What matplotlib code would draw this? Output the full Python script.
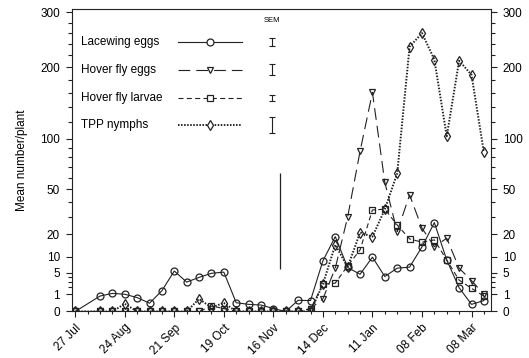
import matplotlib.pyplot as plt
import matplotlib.dates as mdates
import numpy as np
import pandas as pd

plt.rcParams['font.family'] = ['Liberation Sans', 'DejaVu Sans']
plt.rcParams['lines.scale_dashes'] = False

# sampling dates: 27 Jul, then weekly from 10 Aug to 15 Mar
dates = pd.to_datetime(['2008-07-27'] + [d.strftime('%Y-%m-%d') for d in pd.date_range('2008-08-10', '2009-03-15', freq='7D')])

lacewing_eggs = [0, 0.8, 1.1, 1.0, 0.65, 0.23, 1.45, 5.5, 2.9, 3.9, 4.9, 5.2, 0.26, 0.17, 0.14, 0.03, 0,
                 0.42, 0.4, 8.6, 18.8, 6.5, 4.65, 9.9, 4.1, 6.3, 6.6, 14, 26.5, 8.9, 1.9, 0.17, 0.4]
hover_fly_eggs = [0, 0, 0, 0, 0, 0, 0, 0, 0, 0, 0, 0, 0, 0, 0, 0, 0,
                  0, 0.03, 0.53, 6.3, 30, 86, 161, 56, 21.4, 45.6, 23.3, 14.1, 18, 6.3, 3.2, 1.0]
hover_fly_larvae = [0, 0, 0, 0, 0, 0, 0, 0, 0, 0, 0.1, 0.03, 0, 0, 0, 0, 0,
                    0, 0.02, 2.5, 2.7, 7.0, 12.7, 34.6, 35.1, 25.1, 17.7, 16.1, 17.2, 8.9, 3.3, 1.8, 0.8]
tpp_nymphs = [0, 0, 0, 0.2, 0, 0, 0, 0, 0, 0.53, 0.05, 0.25, 0, 0, 0, 0, 0,
              0, 0, 2.5, 14.9, 6.6, 20.9, 18.8, 35, 64, 235, 260, 213, 103, 211, 188, 85]

labels = ['Lacewing eggs', 'Hover fly eggs', 'Hover fly larvae', 'TPP nymphs']
sem_half = [0.0128, 0.0182, 0.0095, 0.0275]   # SEM bar half heights (axes fraction)

marker_date = pd.Timestamp('2008-11-20')
marker_range = (6, 64)

yticks = [0, 1, 5, 10, 20, 50, 100, 200, 300]
yminor = [2, 3, 4, 30, 40, 60, 70, 80, 90, 120, 140, 160, 180, 220, 240, 260, 280]

styles = [
    dict(marker='o', ms=5.0, ls='-', lw=0.8),
    dict(marker='v', ms=5.0, ls=(0, (8.5, 4.3)), lw=0.8),
    dict(marker='s', ms=4.2, ls=(0, (3.6, 2.4)), lw=0.8),
    dict(marker='d', ms=5.2, ls=(0, (1.1, 1.1)), lw=1.4),
]

fig = plt.figure(figsize=(5.29, 3.58), dpi=100)
ax = fig.add_axes([0.1355, 0.1299, 0.7926, 0.8436])

series = [lacewing_eggs, hover_fly_eggs, hover_fly_larvae, tpp_nymphs]
for vals, st in zip(series, styles):
    ax.plot(dates, vals, color='#222222', mfc='none', mec='#222222', mew=0.9, **st)

ax.vlines(marker_date, *marker_range, color='#222222', lw=0.9)

ax.set_yscale('function', functions=(lambda v: np.sqrt(np.clip(v, 0, None)), lambda v: np.square(v)))
ax.set_ylim(0, 306)
ax.set_yticks(yticks)
ax.set_yticklabels([str(t) for t in yticks])
ax.set_yticks(yminor, minor=True)

ax.set_xlim(pd.Timestamp('2008-07-25'), pd.Timestamp('2009-03-19'))
ax.set_xticks(pd.date_range('2008-07-27', periods=9, freq='28D'))
ax.set_xticks(pd.date_range('2008-07-27', '2009-03-15', freq='7D'), minor=True)
ax.xaxis.set_major_formatter(mdates.DateFormatter('%d %b'))
plt.setp(ax.get_xticklabels(), rotation=45, ha='right', rotation_mode='anchor')

ax.tick_params(which='both', direction='out', labelsize=8.5, width=0.8, color='#222222')
ax.tick_params(axis='y', which='both', right=True, labelright=True)
ax.tick_params(axis='y', which='major', length=4.5, pad=4)
ax.tick_params(axis='y', which='minor', length=3)
ax.tick_params(axis='x', which='major', length=4.5, pad=3)
ax.tick_params(axis='x', which='minor', length=2.5)
for s in ax.spines.values():
    s.set_linewidth(0.8)
    s.set_color('#222222')

ax.set_ylabel('Mean number/plant', fontsize=8.5)
ax.yaxis.set_label_coords(-0.105, 0.5)

# legend drawn by hand: text left, line sample, SEM bar
rows = [0.8914, 0.7997, 0.708, 0.6175]
for lab, st, y, h in zip(labels, styles, rows, sem_half):
    ax.text(0.022, y, lab, transform=ax.transAxes, fontsize=8.5, va='center', ha='left')
    ax.plot([0.2535, 0.406], [y, y], transform=ax.transAxes, color='#222222',
            ls=st['ls'], lw=st['lw'], clip_on=False)
    ax.plot([0.33], [y], transform=ax.transAxes, color='#222222', marker=st['marker'],
            ms=st['ms'], mfc='white', mec='#222222', mew=0.9, ls='none')
    ax.errorbar([0.4777], [y], yerr=[h], transform=ax.transAxes, color='#222222',
                lw=0.8, capsize=2.5, capthick=0.8, fmt='none')
ax.text(0.4777, 0.965, 'SEM', transform=ax.transAxes, fontsize=5.5, ha='center', va='center')

plt.savefig('out.png', dpi=100)
